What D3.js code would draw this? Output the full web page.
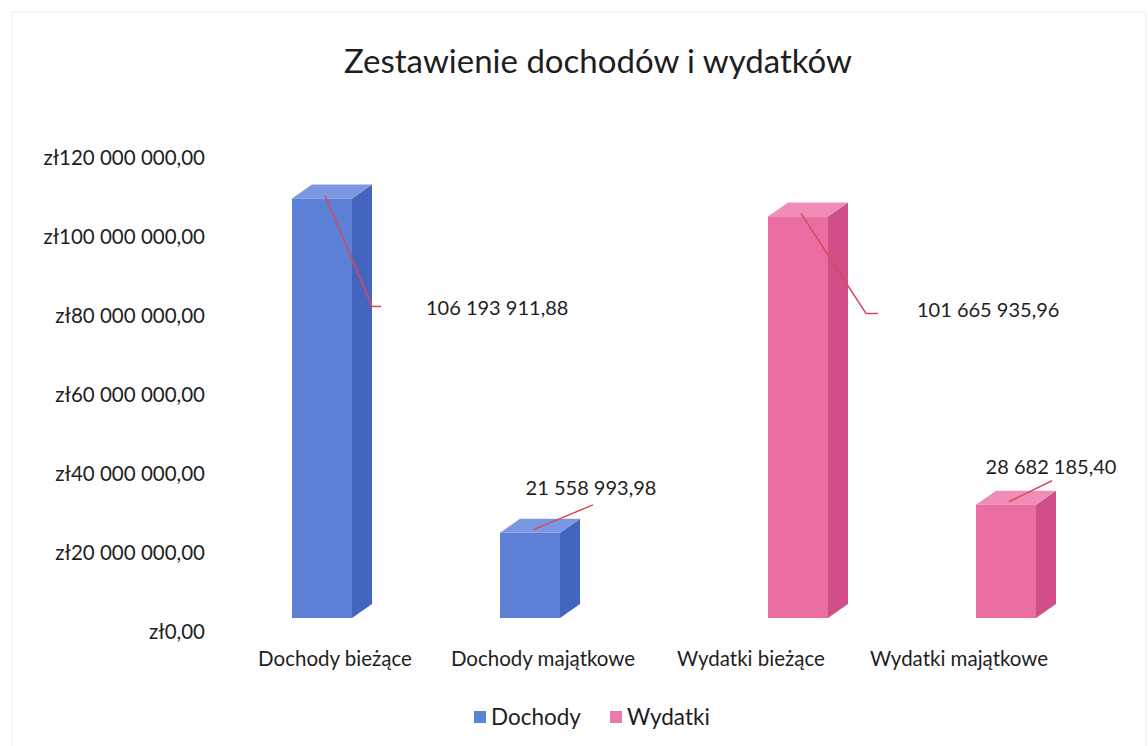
<!DOCTYPE html>
<html>
<head>
<meta charset="utf-8">
<script src="https://cdn.jsdelivr.net/npm/d3@7"></script>
<style>
  body { margin: 0; background: #fff; }
  text { font-family: "Lato", "Open Sans", sans-serif; fill: #1e1e1e; }
</style>
</head>
<body>
<div class="chart"></div>
<script>
// data
const categories = ["Dochody bieżące", "Dochody majątkowe", "Wydatki bieżące", "Wydatki majątkowe"];
const seriesNames = ["Dochody", "Wydatki"];
const dochody = [106193911.88, 21558993.98, null, null];
const wydatki = [null, null, 101665935.96, 28682185.40];
const yTicks = [0, 20000000, 40000000, 60000000, 80000000, 100000000, 120000000];

const W = 1148, H = 746;
const colors = {
    Dochody: {front: "#5b80d6", side: "#4465bd", top: "#7a98e2", leg: "#5b84d2"},
    Wydatki: {front: "#eb6ea3", side: "#cf4f86", top: "#f08db7", leg: "#ec7aa9"}
};
const depth = {dx: 20, dy: -14};

const pl = d3.formatLocale({decimal: ",", thousands: " ", grouping: [3], currency: ["zł", ""]});
const fmtAxis = pl.format("$,.2f");
const fmtLabel = pl.format(",.2f");

let svg = d3.select(".chart").append("svg")
    .attr("width", W)
    .attr("height", H);

// faint scan border
svg.append("rect")
    .attr("x", 12).attr("y", 12)
    .attr("width", W - 14).attr("height", H - 10)
    .attr("fill", "none")
    .attr("stroke", "#ececec");

// title
svg.append("text")
    .attr("x", 598).attr("y", 73)
    .attr("text-anchor", "middle")
    .style("font-size", "33px")
    .text("Zestawienie dochodów i wydatków");

// scales
let y = d3.scaleLinear().domain([0, 120000000]).range([632, 158]);
let x = d3.scaleBand().domain(categories).range([231, 1063]);
let xs = d3.scaleBand().domain(seriesNames).range([71, 191]);

// y axis
svg.append("g")
    .attr("transform", "translate(205,0)")
    .call(d3.axisLeft(y).tickValues(yTicks).tickSize(0).tickPadding(0).tickFormat(fmtAxis))
    .call(g => g.select(".domain").remove())
    .selectAll("text")
    .style("font-size", "20.5px")
    .style("font-family", "Lato, sans-serif")
    .attr("fill", "#1e1e1e");

// x axis labels
svg.append("g")
    .attr("transform", "translate(0,651)")
    .call(d3.axisBottom(x).tickSize(0).tickPadding(0))
    .call(g => g.select(".domain").remove())
    .selectAll("text")
    .style("font-size", "20.5px")
    .style("font-family", "Lato, sans-serif")
    .attr("fill", "#1e1e1e");

// build bars
let bars = [];
categories.forEach((c, i) => {
    [["Dochody", dochody[i]], ["Wydatki", wydatki[i]]].forEach(([s, v]) => {
        if (v == null) return;
        const cx = x(c) + xs(s) + xs.bandwidth() / 2;
        bars.push({cat: c, series: s, value: v, x0: cx - 40, x1: cx + 20, yTop: y(v) + depth.dy, yBot: y(0) + depth.dy});
    });
});

let g = svg.append("g");
bars.forEach(b => {
    const c = colors[b.series];
    const d = depth;
    // side
    g.append("path")
        .attr("d", `M${b.x1},${b.yTop}L${b.x1 + d.dx},${b.yTop + d.dy}L${b.x1 + d.dx},${b.yBot + d.dy}L${b.x1},${b.yBot}Z`)
        .attr("fill", c.side);
    // top
    g.append("path")
        .attr("d", `M${b.x0},${b.yTop}L${b.x0 + d.dx},${b.yTop + d.dy}L${b.x1 + d.dx},${b.yTop + d.dy}L${b.x1},${b.yTop}Z`)
        .attr("fill", c.top);
    // front
    g.append("rect")
        .attr("x", b.x0).attr("y", b.yTop)
        .attr("width", b.x1 - b.x0).attr("height", b.yBot - b.yTop)
        .attr("fill", c.front);
});

// data labels with leader lines
const labelPos = [
    {dx: 47, dy: 111, hx: 9, tx: 45, ty: 1, anchor: "start"},
    {dx: 60, dy: -25, hx: 0, tx: -2, ty: -17, anchor: "middle"},
    {dx: 65, dy: 100, hx: 12, tx: 39, ty: -3, anchor: "start"},
    {dx: 43, dy: -21, hx: 0, tx: -1, ty: -14, anchor: "middle"}
];
bars.forEach((b, i) => {
    const p = labelPos[i];
    const sx = b.x0 + 33, sy = b.yTop - 3;
    const ex = sx + p.dx, ey = sy + p.dy;
    let pts = [[sx, sy], [ex, ey]];
    if (p.hx) pts.push([ex + p.hx, ey]);
    svg.append("path")
        .attr("d", d3.line()(pts))
        .attr("fill", "none")
        .attr("stroke", "#d9485e")
        .attr("stroke-width", 1.5);
    svg.append("text")
        .attr("x", ex + p.hx + p.tx)
        .attr("y", ey + p.ty)
        .attr("dy", "0.35em")
        .attr("text-anchor", p.anchor)
        .style("font-size", "20px")
        .text(fmtLabel(b.value));
});

// legend
let legend = svg.append("g").attr("transform", "translate(474,717)");
seriesNames.forEach((s, i) => {
    const item = legend.append("g").attr("transform", `translate(${i === 0 ? 0 : 136},0)`);
    item.append("rect")
        .attr("x", 0).attr("y", -6)
        .attr("width", 12).attr("height", 12)
        .attr("fill", colors[s].leg);
    item.append("text")
        .attr("x", 17).attr("y", 0)
        .attr("dy", "0.35em")
        .style("font-size", "22.5px")
        .text(s);
});
</script>
</body>
</html>
